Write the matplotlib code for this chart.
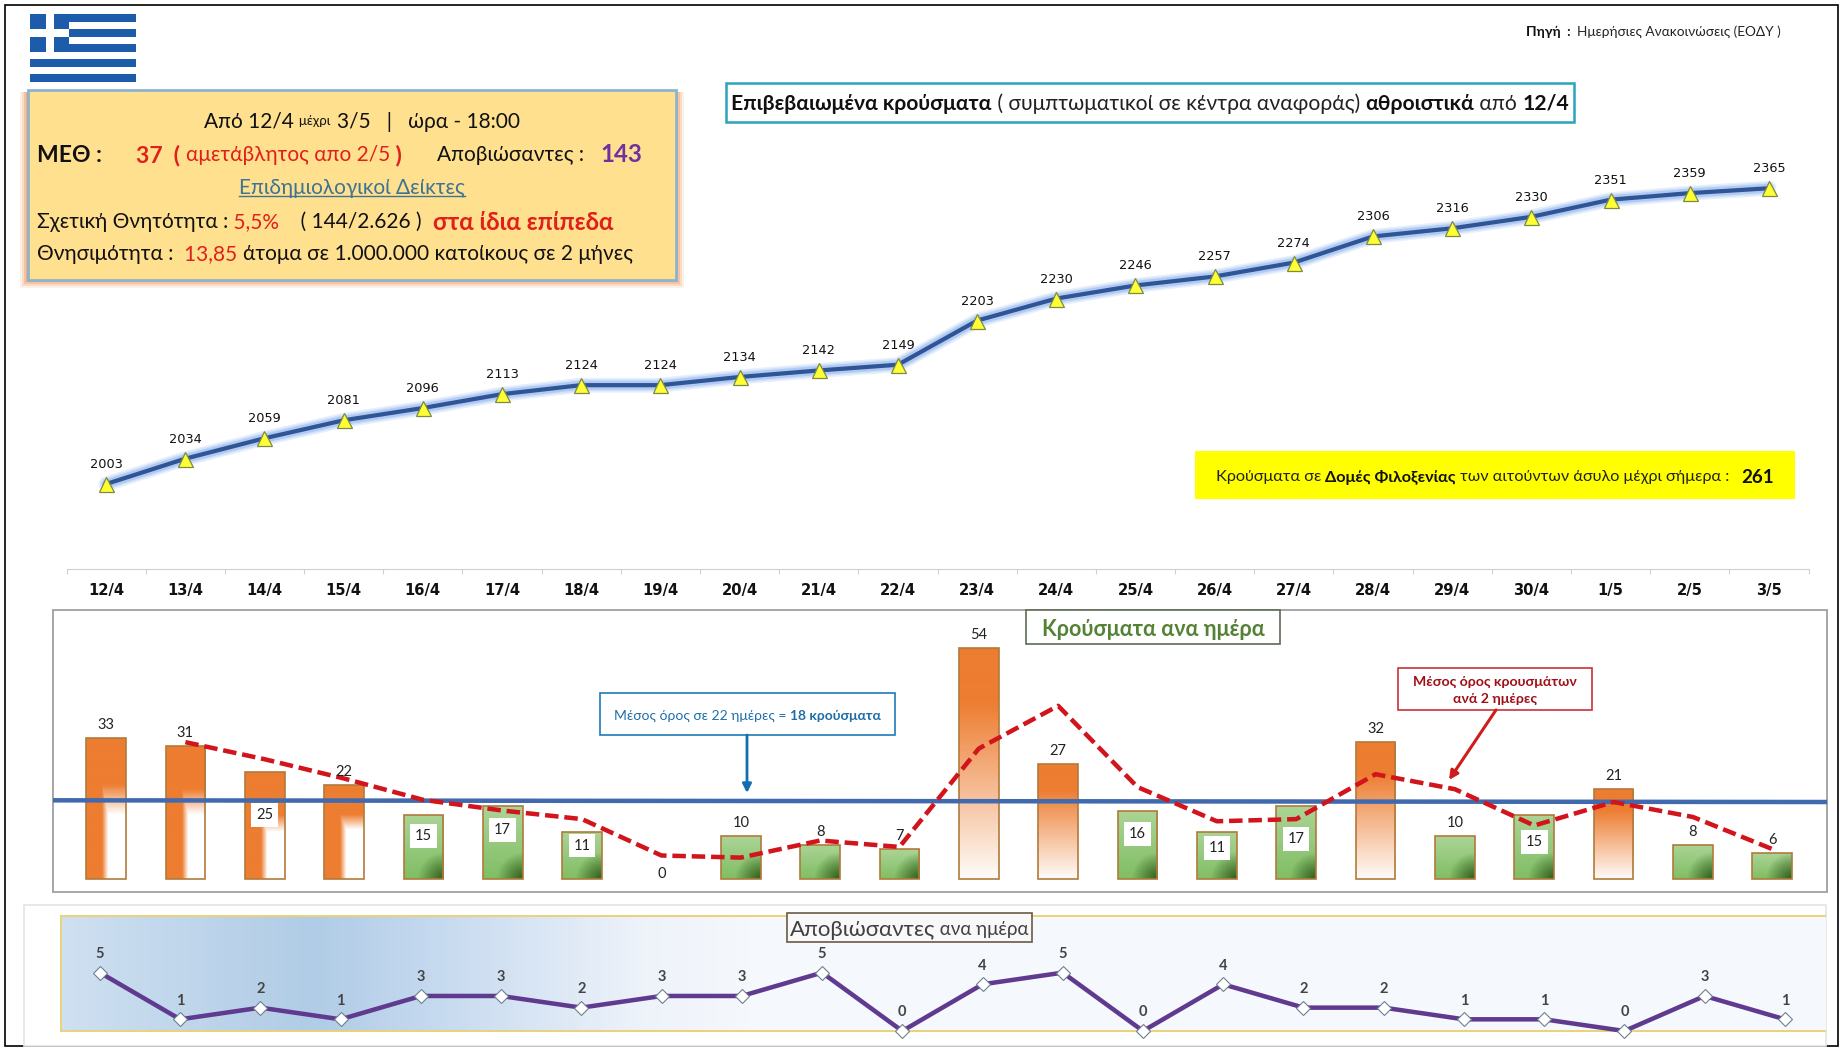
import numpy as np
import matplotlib
matplotlib.use('Agg')
import matplotlib.pyplot as plt
from matplotlib.patches import Rectangle

W, H = 1842, 1052
BODY = ['Lato', 'Noto Sans', 'DejaVu Sans']
plt.rcParams['font.family'] = BODY

# data
days = ['12/4', '13/4', '14/4', '15/4', '16/4', '17/4', '18/4', '19/4', '20/4', '21/4', '22/4',
        '23/4', '24/4', '25/4', '26/4', '27/4', '28/4', '29/4', '30/4', '1/5', '2/5', '3/5']
total_cases = [2003, 2034, 2059, 2081, 2096, 2113, 2124, 2124, 2134, 2142, 2149,
               2203, 2230, 2246, 2257, 2274, 2306, 2316, 2330, 2351, 2359, 2365]
daily_cases = [33, 31, 25, 22, 15, 17, 11, 0, 10, 8, 7, 54, 27, 16, 11, 17, 32, 10, 15, 21, 8, 6]
mean_2days = [32, 28, 23.5, 18.5, 16, 14, 5.5, 5, 9, 7.5, 30.5, 40.5, 21.5, 13.5, 14, 24.5, 21, 12.5, 18, 14.5, 7]
mean_line = [18.4, 18.0]
deaths = [5, 1, 2, 1, 3, 3, 2, 3, 3, 5, 0, 4, 5, 0, 4, 2, 2, 1, 1, 0, 3, 1]

fig = plt.figure(figsize=(W / 100, H / 100), dpi=100, facecolor='white')
renderer = fig.canvas.get_renderer()


def px_axes(x0, y0, x1, y1, z):  # axes placed by pixel box, y counted from the top
    ax = fig.add_axes([x0 / W, 1 - y1 / H, (x1 - x0) / W, (y1 - y0) / H], zorder=z)
    ax.patch.set_alpha(0)
    return ax


def px(n):  # pixels to points
    return n * 0.72


back = px_axes(0, 0, W, H, 0)
top = px_axes(0, 0, W, H, 10)
for a in (back, top):
    a.set_xlim(0, W)
    a.set_ylim(H, 0)
    a.axis('off')


def box(ax, x0, y0, x1, y1, fc='white', ec='none', lw=1, z=2):
    ax.add_patch(Rectangle((x0, y0), x1 - x0, y1 - y0, facecolor=fc, edgecolor=ec, linewidth=lw, zorder=z))


def width_of(s, **kw):  # width that keeps leading and trailing spaces
    a = top.text(0, 0, '.' + s + '.', **kw)
    b = top.text(0, 0, '..', **kw)
    w = a.get_window_extent(renderer).width - b.get_window_extent(renderer).width
    a.remove()
    b.remove()
    return w


def runs(x, y, parts, center=False):  # one line of text with mixed colours and weights
    widths = [width_of(p[0], fontsize=p[3], fontweight=p[2]) for p in parts]
    if center:
        x = x - sum(widths) / 2
    for p, w in zip(parts, widths):
        top.text(x, y, p[0], color=p[1], fontweight=p[2], fontsize=p[3], va='center_baseline', ha='left', zorder=6)
        x += w
    return x


# outer frames
box(back, 5, 5, 1838, 1046, fc='white', ec='black', lw=1.2, z=0)
box(back, 24, 905, 1826, 1046, fc='white', ec='#e4e4e4', lw=1.2, z=1)

# flag
BLUE = '#1c5cab'
stripe = 68 / 9
for k in range(0, 9, 2):
    box(top, 30, 14 + k * stripe, 136, 14 + (k + 1) * stripe, fc=BLUE)
box(top, 30, 14, 69, 14 + 5 * stripe, fc=BLUE)
box(top, 46, 14, 54, 14 + 5 * stripe, fc='white', z=3)
box(top, 30, 14 + 2 * stripe, 69, 14 + 3 * stripe, fc='white', z=3)

# info box with a soft orange glow
for pad, col in [(8, '#fdf0e6'), (6, '#fadcc6'), (4, '#f5c3a1'), (2, '#eeaa80')]:
    box(top, 27.5 - pad, 92, 676 + pad, 280 + pad, fc=col, z=1)
box(top, 27.5, 90, 676, 280, fc='#ffe08f', ec='#8db4cf', lw=2, z=2)
BK, RD, F, FB = '#111111', '#e0201c', 15, 16.5
runs(362, 120, [('Από 12/4 ', BK, 'normal', F), ('μέχρι  ', BK, 'normal', 9.5), ('3/5   |   ώρα - 18:00', BK, 'normal', F)], center=True)
runs(37, 153, [('ΜΕΘ :', BK, 'bold', FB)])
runs(136, 153, [('37  ( ', RD, 'bold', FB), ('αμετάβλητος απο 2/5', RD, 'normal', F), (' )', RD, 'bold', FB)])
runs(437, 153, [('Αποβιώσαντες :   ', BK, 'normal', F), ('143', '#7030a0', 'bold', 17.3)])
end = runs(352, 186, [('Επιδημιολογικοί Δείκτες', '#3f7396', 'normal', F)], center=True)
top.plot([end - width_of('Επιδημιολογικοί Δείκτες', fontsize=F), end], [196, 196], color='#3f7396', lw=1, zorder=6)
runs(37, 220, [('Σχετική Θνητότητα :', BK, 'normal', F), (' 5,5%', RD, 'normal', F), ('    ( 144/2.626 )  ', BK, 'normal', F), ('στα ίδια επίπεδα', RD, 'bold', 17.3)])
runs(37, 252, [('Θνησιμότητα :  ', BK, 'normal', F), ('13,85 ', RD, 'normal', F), ('άτομα σε 1.000.000 κατοίκους σε 2 μήνες', BK, 'normal', F)])

# source and title
runs(1526, 31, [('Πηγή  :  ', BK, 'bold', 9.85), ('Ημερήσιες Ανακοινώσεις (ΕΟΔΥ )', '#222222', 'normal', 9.85)])
box(top, 726, 83, 1574, 122, ec='#2ba3bd', lw=1.8)
runs(1150, 102, [('Επιβεβαιωμένα κρούσματα', BK, 'bold', 15.25), (' ( συμπτωματικοί σε κέντρα αναφοράς) ', '#222222', 'normal', 15.25),
                 ('αθροιστικά', BK, 'bold', 15.25), (' από ', '#222222', 'normal', 15.25), ('12/4', BK, 'bold', 15.25)], center=True)
box(top, 1195, 451, 1795, 499, fc='#ffff00')
runs(1495, 476, [('Κρούσματα σε ', '#222222', 'normal', 11.7), ('Δομές Φιλοξενίας', BK, 'bold', 11.7),
                 (' των αιτούντων άσυλο μέχρι σήμερα :   ', '#222222', 'normal', 11.7), ('261', BK, 'bold', 13.5)], center=True)

# cumulative line
x = np.arange(len(days))
ax1 = px_axes(66.5, 100, 1808.5, 569, 3)
ax1.set_xlim(-0.5, 21.5)
ax1.set_ylim(1899, 2473)
for lw, col in [(15, '#e8f0fc'), (12, '#d2e1f9'), (9, '#b0caf2')]:
    ax1.plot(x, total_cases, color=col, lw=px(lw), solid_capstyle='round')
ax1.plot(x, total_cases, color='#2f5597', lw=px(4.2), marker='^', ms=px(15), mfc='#ffff33', mec='#7c8a45', mew=0.9)
for i, v in zip(x, total_cases):
    ax1.annotate(str(v), (i, v), xytext=(0, px(19.5)), textcoords='offset points', ha='center', va='center',
                 fontsize=9.3, family='DejaVu Sans', color='#111111')
for s in ['left', 'right', 'top']:
    ax1.spines[s].set_visible(False)
ax1.spines['bottom'].set_color('#d0d0d0')
ax1.set_yticks([])
ax1.set_xticks(np.arange(-0.5, 22, 1))
ax1.set_xticklabels([])
ax1.tick_params(axis='x', color='#d0d0d0', length=px(5))
for i, d in zip(x, days):
    ax1.annotate(d, (i, 0), xycoords=('data', 'axes fraction'), xytext=(0, -px(21)), textcoords='offset points',
                 ha='center', va='center', fontsize=10.6, fontweight='bold', family='DejaVu Sans', color='#111111')

# daily bars
XL2 = (-0.668, 21.69)
YL2 = (-3.04, 62.9)
ax2 = px_axes(53, 610, 1827, 892, 3)
ax2.set_xticks([])
ax2.set_yticks([])
for s in ax2.spines.values():
    s.set_color('#a6a6a6')
    s.set_linewidth(1.4)
bars = ax2.bar(x, daily_cases, width=0.5, facecolor='none', edgecolor='#b07a3c', linewidth=1.2, zorder=3)

ORANGE = np.array([237, 125, 49]) / 255
WHITE = np.ones(3)
LGREEN = np.array([172, 212, 150]) / 255
MGREEN = np.array([128, 190, 100]) / 255
DGREEN = np.array([56, 102, 35]) / 255
half_fade = {0: (22, 15), 1: (21, 15), 2: (15, 11), 3: (15, 11.5)}


def bar_image(i, v):
    ny, nx = 120, 40
    xx, yy = np.meshgrid(np.linspace(0, 1, nx), np.linspace(1, 0, ny))
    if v > 18 and i in half_fade:  # orange on top, white lower right
        hi, lo = half_fade[i]
        f = np.clip((yy * v - lo) / (hi - lo), 0, 1)
        f = np.maximum(f, np.clip((0.56 - xx) / 0.16, 0, 1))
        return f[..., None] * ORANGE + (1 - f[..., None]) * WHITE
    if v > 18:  # orange fading down to white
        f = np.clip(yy * 1.3, 0, 1)[..., None] * 0.97 + 0.03
        return f * ORANGE + (1 - f) * WHITE
    # green with the dark corner at lower right
    f = yy[..., None]
    c = f * LGREEN + (1 - f) * MGREEN
    h = max(v, 1)
    d = np.clip(1.1 - np.hypot((1 - xx) * 40, yy * h * 4.28) / 24, 0, 1)[..., None]
    return (1 - d) * c + d * DGREEN


for i, b in enumerate(bars):
    v = b.get_height()
    if v == 0:
        b.set_visible(False)
        continue
    im = ax2.imshow(bar_image(i, v), extent=[b.get_x(), b.get_x() + b.get_width(), 0, v], aspect='auto', zorder=2)
    im.set_clip_path(b)
ax2.set_xlim(*XL2)
ax2.set_ylim(*YL2)

ax2.plot(XL2, mean_line, color='#4169ad', lw=px(4.5), zorder=4, solid_capstyle='butt')
ax2.plot(x[1:], mean_2days, color='#d2141c', lw=px(4.5), ls=(0, (3, 1.3)), zorder=5, dash_joinstyle='round')

inside = {2: 15, 4: 10, 5: 11.4, 6: 7.8, 13: 10.5, 14: 7.3, 15: 9.4, 18: 8.7}  # label heights inside the bars
for i, v in zip(x, daily_cases):
    if i in inside:
        ax2.text(i, inside[i], str(v), ha='center', va='center', fontsize=10.5, color='#222222', zorder=7,
                 bbox=dict(fc='white', ec='none', pad=3.5))
    else:
        ax2.annotate(str(v), (i, v), xytext=(0, px(13) if v else px(5)), textcoords='offset points', ha='center', va='center',
                     fontsize=10.5, color='#222222', zorder=7)

box(top, 1026, 610, 1280, 644, ec='#5d6b55', lw=1.2)
runs(1153, 628, [('Κρούσματα ανα ημέρα', '#548235', 'bold', 15.5)], center=True)
box(top, 600, 693, 895, 735, ec='#1f7ab5', lw=1.2)
runs(747, 715, [('Μέσος όρος σε 22 ημέρες = ', '#1f6ea8', 'normal', 10), ('18 κρούσματα', '#1f6ea8', 'bold', 10)], center=True)
top.annotate('', xy=(747, 793), xytext=(747, 735), arrowprops=dict(arrowstyle='-|>', color='#0f6fb0', lw=2, mutation_scale=13, shrinkA=0, shrinkB=0))
box(top, 1398, 668, 1592, 710, ec='#c8323a', lw=1.2)
runs(1495, 681, [('Μέσος όρος κρουσμάτων', '#a01018', 'bold', 10.2)], center=True)
runs(1495, 698, [('ανά 2 ημέρες', '#a01018', 'bold', 10.2)], center=True)
top.annotate('', xy=(1449, 780), xytext=(1496, 710), arrowprops=dict(arrowstyle='-|>', color='#d01c1c', lw=2.2, mutation_scale=13, shrinkA=0, shrinkB=0))

# deaths panel
XL3 = (-0.49, 21.50)
ax3 = px_axes(60.6, 916, 1825, 1031, 3)
gx = np.linspace(0, 1, 400)
stops = [0, 0.142, 0.21, 0.33, 0.39, 1]
reds = [207, 176, 197, 238, 245, 245]
greens = [224, 204, 217, 243, 248, 248]
blues = [241, 230, 239, 250, 252, 252]
strip = np.stack([np.interp(gx, stops, c) for c in (reds, greens, blues)], axis=-1)[None, :, :] / 255
ax3.imshow(strip, extent=[XL3[0], XL3[1], 0, 9.85], aspect='auto', zorder=0)
ax3.set_xlim(*XL3)
ax3.set_ylim(0, 9.85)
for s in ['top', 'bottom', 'left']:
    ax3.spines[s].set_color('#ead27a')
    ax3.spines[s].set_linewidth(1.4)
ax3.spines['right'].set_visible(False)
ax3.set_xticks([])
ax3.set_yticks([])
ax3.plot(x, deaths, color='#5f3a8f', lw=px(4.5), marker='D', ms=px(10), mfc='white', mec='#6f7f90', mew=0.8, clip_on=False, zorder=3)
for i, v in zip(x, deaths):
    ax3.annotate(str(v), (i, v), xytext=(0, px(18.5)), textcoords='offset points', ha='center', va='center',
                 fontsize=10.5, fontweight='bold', color='#444444', zorder=4)

box(top, 787, 913, 1032, 942, fc='#f8f8f8', ec='#6b5a45', lw=1.2)
runs(909.5, 928, [('Αποβιώσαντες', '#404040', 'normal', 16), (' ανα ημέρα', '#404040', 'normal', 13.5)], center=True)

fig.savefig('out.png', dpi=100)
